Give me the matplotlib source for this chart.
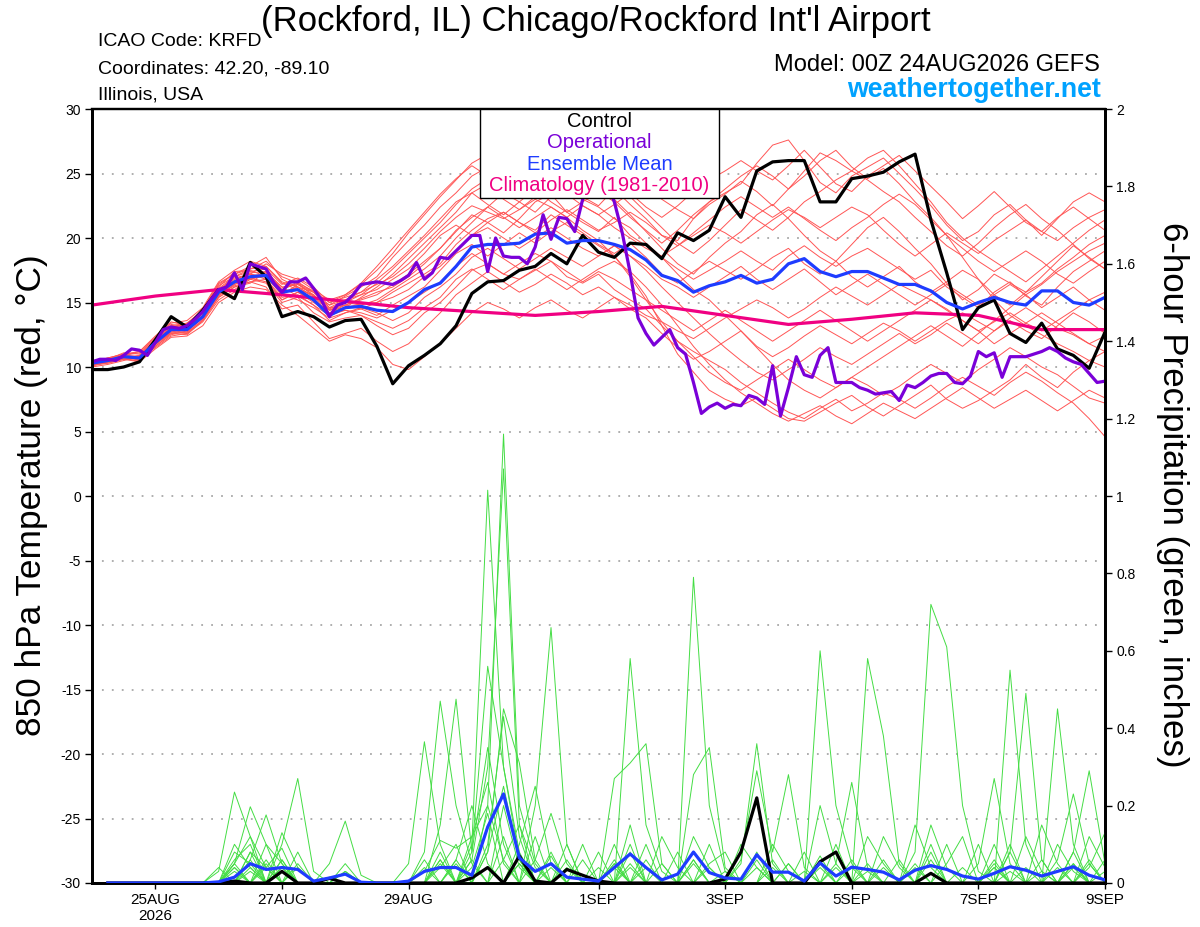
import numpy as np
import matplotlib
matplotlib.use('Agg')
import matplotlib.pyplot as plt
from matplotlib.patches import Rectangle

plt.rcParams['font.family'] = ['Liberation Sans', 'DejaVu Sans']

# forecast hours (00Z 24AUG2026 run)
hours6 = np.arange(0, 385, 6)
hours3 = np.arange(0, 385, 3)
clim_hours = np.arange(0, 385, 24)
precip_hours = hours6[1:]

date_ticks = [24, 72, 120, 192, 240, 288, 336, 384]
date_labels = ['25AUG\n2026', '27AUG', '29AUG', '1SEP', '3SEP', '5SEP', '7SEP', '9SEP']

# 850 hPa temperature, control run (6-hourly)
control_temp = [9.8, 9.8, 10.0, 10.4, 12.1, 13.9, 13.1, 14.4, 16.0, 15.3, 18.1, 17.0,
                13.9, 14.3, 13.9, 13.1, 13.6, 13.7, 11.6, 8.7, 10.1,
                10.9, 11.8, 13.2, 15.7, 16.6, 16.7, 17.5, 17.8, 18.8, 18.0, 20.2, 18.9, 18.5, 19.6,
                19.5, 18.4, 20.4, 19.8, 20.6, 23.2,
                21.6, 25.2, 25.9, 26.0, 26.0, 22.8, 22.8, 24.6, 24.8, 25.1, 25.9, 26.5, 21.4, 17.3,
                12.9, 14.6, 15.2, 12.6, 11.9, 13.4, 11.4, 10.9, 9.9, 12.7]

# ensemble mean (6-hourly)
mean_temp = [10.3, 10.5, 10.8, 10.7, 11.9, 12.9, 12.9, 13.9, 15.8, 16.6, 17.0, 17.1,
             15.8, 16.0, 15.2, 14.0, 14.6, 14.7, 14.4, 14.3, 15.0,
             16.0, 16.5, 17.8, 19.3, 19.5, 19.5, 19.6, 20.3, 20.4, 19.6, 19.8, 19.8, 19.5, 19.1,
             18.3, 17.1, 16.7, 15.8, 16.3, 16.6,
             17.1, 16.5, 16.8, 18.0, 18.4, 17.4, 17.0, 17.4, 17.4, 16.9, 16.4, 16.4, 15.9, 15.0,
             14.5, 15.0, 15.4, 15.0, 14.8, 15.9, 15.9, 15.0, 14.8, 15.4]

# operational run (3-hourly)
oper_temp = [10.4, 10.6, 10.6, 10.5, 10.9, 11.4, 11.3, 10.9, 11.9, 12.9, 13.1, 13.0,
             13.2, 13.7, 14.3, 15.2, 16.0, 16.2, 17.3, 16.0, 18.0, 17.8, 17.6, 16.5,
             15.8, 16.6, 16.6, 16.9, 16.1, 15.2, 13.9, 14.8, 15.0, 15.6, 16.4, 16.5,
             16.6, 16.5, 16.4, 16.7, 17.1, 18.1, 16.8, 17.3, 18.5, 18.4, 19.0, 19.6,
             20.2, 20.2, 17.4, 20.0, 18.6, 18.5, 18.5, 18.0, 19.3, 21.8, 19.9, 21.6,
             21.5, 20.5, 23.0, 24.5, 25.0, 24.3, 22.8, 20.4, 17.3, 13.8, 12.6, 11.7,
             12.3, 12.9, 11.5, 11.0, 8.8, 6.4, 6.9, 7.2, 6.8, 7.1, 7.0, 7.8,
             7.6, 7.1, 10.1, 6.2, 8.4, 10.8, 9.4, 9.2, 10.9, 11.5, 8.8, 8.8,
             8.8, 8.4, 8.2, 7.9, 8.0, 8.1, 7.4, 8.6, 8.4, 8.8, 9.3, 9.5,
             9.5, 8.8, 8.7, 9.3, 11.2, 10.8, 11.1, 9.2, 10.8, 10.8, 10.8, 11.0,
             11.2, 11.5, 11.2, 10.7, 10.4, 10.2, 9.5, 8.8, 8.9]

# climatology 1981-2010 (daily)
clim_temp = [14.8, 15.5, 16.0, 15.6, 15.1, 14.6, 14.3, 14.0, 14.3, 14.7, 14.0, 13.3,
             13.7, 14.2, 14.0, 12.9, 12.9]

# ensemble members (6-hourly)
ens_temp = [
    [10.1, 10.4, 10.9, 11.2, 12.4, 13.5, 13.2, 14.5, 16.5, 17.2, 17.8, 18.5,
     16.8, 16.2, 15.5, 14.8, 15.5, 16.2, 17.0, 18.5, 19.8,
     21.0, 22.4, 23.5, 24.8, 25.5, 24.6, 23.8, 24.5, 25.2, 24.0, 23.2, 22.5, 23.8, 22.6, 21.5, 20.2, 19.8, 21.5, 22.8, 23.5,
     24.2, 25.8, 27.2, 27.6, 26.0, 24.3, 23.5, 24.8, 25.5, 26.2, 25.0, 23.8, 22.5, 21.0, 19.8, 20.5, 21.8, 22.6, 21.4, 20.2, 21.5, 22.8, 23.5, 22.8],
    [10.4, 10.7, 11.0, 10.6, 11.5, 12.4, 12.6, 13.5, 15.2, 16.0, 16.8, 16.5,
     15.0, 15.4, 14.2, 13.5, 13.8, 14.0, 13.2, 12.5, 13.0,
     14.2, 15.0, 16.2, 17.5, 18.0, 17.2, 16.8, 17.5, 18.2, 17.0, 16.5, 17.2, 16.0, 15.2, 14.5, 13.2, 12.0, 11.2, 10.5, 9.8,
     8.8, 8.0, 7.2, 6.5, 6.0, 6.8, 7.5, 6.6, 7.2, 8.0, 7.5, 6.8, 7.6, 8.5, 9.2, 8.5, 7.8, 8.8, 9.6, 8.9, 8.0, 7.2, 6.0, 4.6],
    [10.2, 10.3, 10.6, 10.9, 12.0, 13.0, 13.4, 14.2, 16.2, 17.4, 17.5, 17.0,
     15.6, 16.4, 15.8, 14.6, 14.8, 15.3, 15.8, 16.2, 17.0,
     18.0, 19.2, 20.5, 21.8, 21.2, 20.4, 21.5, 22.8, 23.4, 22.0, 21.2, 20.5, 21.6, 20.2, 19.4, 18.5, 17.6, 16.8, 17.5, 18.2,
     19.0, 18.2, 17.5, 18.6, 19.4, 18.5, 17.8, 18.6, 19.2, 18.4, 17.6, 16.8, 17.5, 16.2, 15.4, 14.6, 15.8, 16.6, 15.5, 14.8, 16.2, 17.4, 18.2, 19.0],
    [10.5, 10.6, 10.9, 10.5, 11.8, 12.6, 12.5, 13.6, 15.4, 16.2, 16.5, 17.4,
     16.2, 15.5, 14.8, 13.6, 14.2, 14.5, 15.0, 15.8, 16.5,
     17.2, 18.0, 19.5, 20.6, 21.5, 22.0, 21.2, 20.6, 21.8, 21.0, 20.2, 19.4, 18.6, 17.2, 15.5, 13.2, 11.0, 9.6, 8.2, 7.5,
     7.0, 7.6, 6.8, 6.0, 5.8, 6.5, 7.2, 7.8, 6.9, 6.2, 7.0, 7.8, 8.6, 7.5, 6.8, 7.4, 8.2, 9.0, 10.2, 9.2, 8.4, 9.6, 10.5, 11.2],
    [10.0, 10.2, 10.5, 10.8, 12.2, 13.2, 13.0, 14.0, 16.0, 16.8, 17.2, 18.0,
     17.2, 16.8, 16.0, 15.2, 15.6, 16.4, 17.5, 18.8, 20.4,
     21.8, 23.2, 24.5, 25.8, 26.5, 25.2, 24.8, 26.0, 25.4, 24.6, 23.5, 24.2, 23.0, 21.8, 20.5, 19.2, 18.0, 17.2, 18.5, 19.6,
     20.5, 21.8, 22.6, 21.5, 20.2, 19.0, 18.2, 19.5, 20.8, 21.6, 20.5, 19.2, 18.0, 16.5, 15.2, 16.0, 17.2, 16.5, 15.8, 17.0, 18.2, 19.4, 18.5, 17.6],
    [10.3, 10.5, 10.7, 10.4, 11.6, 12.5, 12.8, 13.8, 15.6, 16.3, 16.6, 16.2,
     14.5, 14.8, 13.5, 12.2, 12.6, 13.0, 12.0, 11.2, 11.8,
     13.0, 14.2, 15.6, 16.5, 17.4, 16.6, 15.8, 16.4, 17.2, 16.5, 15.6, 16.2, 15.4, 14.5, 13.8, 12.6, 11.5, 10.6, 11.2, 12.0,
     12.8, 11.6, 10.8, 11.5, 12.4, 13.2, 12.5, 11.8, 12.6, 13.4, 12.8, 12.0, 12.8, 13.6, 14.2, 13.5, 12.8, 13.8, 14.6, 13.8, 13.0, 12.5, 11.8, 12.4],
    [10.2, 10.6, 11.1, 11.0, 12.1, 13.3, 13.1, 14.3, 16.3, 17.0, 17.6, 17.8,
     16.5, 16.0, 15.6, 14.4, 14.6, 15.4, 16.2, 17.2, 18.4,
     19.6, 20.8, 22.0, 23.5, 24.2, 23.0, 22.2, 23.2, 24.0, 23.4, 22.5, 21.8, 22.6, 23.5, 22.4, 21.6, 22.5, 23.6, 24.5, 25.2,
     26.0, 25.2, 24.5, 25.6, 26.8, 25.5, 24.2, 23.6, 24.8, 25.6, 26.4, 25.2, 24.0, 22.8, 21.5, 22.5, 23.6, 22.4, 21.2, 20.5, 21.6, 22.4, 21.5, 20.6],
    [10.4, 10.5, 10.8, 10.8, 11.9, 12.8, 12.7, 13.9, 15.9, 16.6, 17.2, 16.8,
     15.2, 15.8, 15.0, 14.2, 14.8, 14.5, 14.0, 14.8, 15.5,
     16.2, 17.5, 18.8, 19.5, 18.6, 19.5, 20.4, 19.6, 20.5, 21.2, 20.4, 19.5, 18.8, 19.6, 18.5, 17.2, 16.5, 17.4, 18.2, 17.5,
     16.8, 17.6, 18.5, 19.2, 18.0, 17.2, 18.2, 17.0, 16.2, 17.0, 17.8, 16.6, 15.8, 16.6, 17.5, 16.8, 15.6, 14.8, 15.8, 16.5, 17.6, 18.5, 19.5, 20.2],
    [10.1, 10.4, 10.7, 10.6, 11.7, 12.7, 13.0, 13.8, 15.7, 16.5, 16.8, 17.2,
     16.0, 16.5, 15.5, 14.5, 15.0, 14.8, 15.2, 16.0, 16.8,
     17.6, 18.6, 20.0, 21.2, 22.4, 23.5, 22.8, 22.0, 23.2, 24.0, 23.0, 22.4, 21.5, 20.8, 19.6, 18.5, 17.2, 16.0, 15.2, 14.0,
     12.8, 11.5, 10.2, 9.0, 8.2, 7.6, 8.4, 9.2, 8.6, 7.8, 8.5, 9.4, 10.2, 9.5, 8.8, 9.8, 10.6, 11.5, 10.8, 10.0, 9.4, 8.5, 7.6, 7.2],
    [10.3, 10.6, 10.9, 10.8, 12.0, 13.1, 13.3, 14.1, 16.1, 17.0, 17.4, 17.6,
     16.4, 16.9, 16.2, 15.0, 15.4, 15.8, 16.4, 17.0, 18.0,
     19.2, 20.5, 21.6, 22.5, 22.0, 21.5, 22.2, 23.0, 22.4, 21.6, 22.5, 21.8, 20.8, 20.0, 19.2, 18.6, 19.4, 20.2, 21.0, 20.4,
     19.6, 20.5, 21.4, 22.2, 21.6, 20.8, 21.6, 22.4, 21.8, 20.6, 19.5, 18.6, 19.5, 20.4, 19.6, 18.8, 19.8, 20.6, 21.4, 20.5, 19.8, 20.8, 21.6, 22.2],
    [10.2, 10.4, 10.6, 10.4, 11.4, 12.3, 12.4, 13.2, 15.0, 15.8, 16.2, 16.0,
     14.8, 14.0, 13.0, 12.0, 12.5, 12.2, 11.5, 10.2, 9.8,
     10.8, 11.8, 13.0, 14.2, 15.0, 14.5, 13.8, 14.6, 15.2, 14.4, 13.8, 14.6, 15.4, 14.8, 14.0, 13.5, 12.8, 12.2, 13.0, 13.8,
     14.5, 15.2, 14.6, 13.8, 14.5, 15.4, 16.2, 15.5, 14.8, 15.6, 16.4, 15.8, 15.2, 14.5, 13.6, 12.8, 13.5, 14.2, 13.4, 12.8, 13.6, 14.4, 15.2, 15.8],
    [10.4, 10.7, 11.0, 11.2, 12.3, 13.4, 13.6, 14.6, 16.6, 17.5, 18.2, 17.8,
     16.6, 16.2, 15.8, 14.8, 15.2, 15.8, 16.8, 17.8, 19.0,
     20.2, 21.5, 22.8, 23.5, 22.6, 21.8, 22.8, 23.8, 24.6, 25.2, 24.2, 23.5, 24.6, 25.5, 24.2, 23.0, 22.2, 21.5, 22.6, 23.4,
     24.4, 23.6, 22.5, 23.8, 24.8, 26.0, 26.8, 25.5, 24.6, 25.4, 24.2, 22.8, 21.6, 20.2, 18.5, 16.8, 15.2, 14.0, 13.2, 12.5, 11.8, 11.2, 10.5, 10.0],
    [10.3, 10.5, 10.8, 10.6, 11.8, 12.7, 12.6, 13.7, 15.5, 16.4, 16.9, 17.0,
     15.6, 15.2, 14.6, 13.8, 14.2, 14.6, 14.2, 13.6, 14.2,
     15.4, 16.2, 17.2, 18.5, 19.2, 18.4, 17.6, 18.4, 19.2, 18.5, 17.8, 18.6, 19.4, 18.6, 17.5, 16.2, 15.0, 13.8, 12.6, 11.5,
     10.5, 9.6, 9.0, 9.8, 10.6, 11.5, 10.8, 10.2, 11.0, 11.8, 12.6, 11.8, 12.5, 13.4, 12.6, 11.8, 12.8, 13.6, 12.8, 12.2, 13.2, 14.2, 13.5, 12.6],
    [10.2, 10.5, 10.9, 11.1, 12.2, 13.2, 13.4, 14.4, 16.4, 17.2, 17.6, 18.2,
     17.0, 16.5, 15.9, 15.0, 15.6, 16.5, 17.8, 19.2, 20.6,
     22.0, 23.4, 24.6, 25.6, 24.8, 24.0, 24.8, 25.6, 24.8, 23.8, 24.5, 25.2, 24.4, 23.2, 22.0, 20.8, 19.6, 18.8, 19.8, 21.0,
     22.2, 21.4, 20.6, 21.6, 22.8, 23.6, 24.5, 25.2, 24.5, 23.6, 22.8, 21.6, 20.5, 19.4, 18.6, 19.6, 20.8, 21.8, 22.6, 21.5, 20.6, 19.5, 18.4, 17.6],
    [10.1, 10.3, 10.6, 10.5, 11.6, 12.6, 12.7, 13.6, 15.4, 16.2, 16.6, 16.8,
     15.4, 15.6, 14.8, 14.0, 14.4, 14.0, 13.5, 13.0, 13.6,
     14.6, 15.4, 16.8, 17.6, 16.8, 16.0, 16.8, 17.6, 16.8, 16.0, 16.8, 17.6, 18.2, 17.4, 16.2, 14.8, 13.2, 11.6, 10.2, 9.0,
     8.0, 7.2, 6.4, 5.8, 6.4, 7.0, 6.2, 5.6, 6.4, 7.2, 6.6, 6.0, 6.8, 7.6, 8.4, 7.6, 6.8, 7.5, 8.2, 7.4, 6.6, 7.4, 8.2, 7.6],
    [10.4, 10.6, 10.8, 10.7, 12.0, 13.0, 12.8, 14.0, 15.9, 16.7, 17.3, 17.4,
     16.0, 16.6, 15.8, 14.6, 15.2, 15.6, 16.0, 16.8, 17.6,
     18.8, 20.2, 21.0, 20.2, 21.2, 22.0, 21.2, 20.4, 21.4, 22.2, 21.4, 20.6, 21.2, 22.0, 21.2, 20.2, 19.4, 20.4, 21.4, 22.4,
     23.2, 22.4, 21.6, 22.4, 21.5, 20.6, 19.8, 20.8, 21.6, 22.6, 23.4, 22.6, 21.4, 20.2, 19.2, 18.2, 17.4, 18.2, 19.0, 18.2, 17.2, 16.5, 17.4, 18.2],
    [10.3, 10.4, 10.7, 10.9, 11.9, 12.9, 12.9, 14.0, 15.8, 16.6, 17.0, 17.3,
     15.8, 16.0, 15.3, 14.2, 14.6, 14.9, 15.0, 15.4, 16.0,
     17.0, 17.8, 19.0, 20.2, 20.8, 20.0, 19.2, 20.0, 20.8, 20.0, 19.2, 18.6, 19.4, 18.6, 17.8, 16.8, 16.2, 15.4, 16.2, 17.0,
     17.8, 16.8, 16.0, 16.8, 17.6, 16.6, 15.6, 16.4, 17.2, 16.4, 15.6, 14.8, 15.6, 16.4, 15.6, 14.8, 15.6, 16.4, 15.6, 14.6, 15.4, 16.2, 15.2, 14.4],
    [10.2, 10.5, 10.7, 10.6, 11.8, 12.8, 12.9, 13.8, 15.6, 16.4, 16.9, 16.6,
     15.2, 15.8, 15.2, 14.2, 14.4, 14.2, 13.8, 14.4, 15.0,
     15.8, 16.6, 17.8, 18.8, 18.0, 17.2, 18.0, 18.8, 18.2, 17.4, 16.6, 17.4, 16.8, 16.0, 15.2, 14.4, 13.6, 12.8, 13.6, 14.4,
     13.6, 12.8, 12.0, 12.8, 13.6, 14.4, 13.6, 12.8, 12.0, 12.8, 13.6, 14.4, 15.2, 14.4, 13.6, 12.8, 11.8, 12.6, 13.4, 14.2, 13.4, 12.6, 11.8, 11.2],
    [10.3, 10.6, 10.9, 10.8, 12.1, 13.1, 13.0, 14.2, 16.0, 16.9, 17.2, 17.0,
     15.8, 16.2, 15.4, 14.4, 15.0, 15.6, 16.5, 17.6, 18.8,
     20.0, 21.2, 22.6, 23.8, 24.6, 25.4, 24.6, 23.8, 22.8, 22.0, 22.8, 23.6, 22.8, 21.6, 20.6, 19.6, 20.6, 21.8, 22.8, 23.8,
     24.8, 25.6, 24.8, 23.8, 25.2, 26.6, 26.0, 25.2, 26.2, 26.8, 25.6, 24.2, 22.8, 21.2, 20.0, 19.0, 18.2, 17.4, 16.6, 17.6, 18.6, 19.6, 20.6, 21.4],
    [10.4, 10.5, 10.8, 10.7, 11.9, 12.8, 12.9, 13.9, 15.7, 16.5, 16.8, 17.2,
     16.2, 16.4, 15.6, 14.4, 14.8, 15.2, 15.6, 16.4, 17.2,
     18.2, 19.2, 20.6, 21.6, 22.4, 21.6, 20.8, 21.6, 22.4, 21.6, 20.6, 19.8, 18.6, 17.0, 15.2, 13.5, 12.0, 10.8, 9.6, 8.8,
     8.2, 9.0, 9.8, 10.6, 9.8, 9.0, 8.4, 9.2, 10.0, 10.8, 11.6, 12.4, 13.2, 12.4, 11.6, 12.6, 13.6, 14.6, 15.6, 16.4, 17.4, 18.2, 19.0, 19.6],
]

# 6-hour precipitation (inches), hours 6..384
control_precip = [0, 0, 0, 0, 0, 0, 0, 0,
                  0.005, 0, 0, 0.03, 0, 0, 0.012, 0,
                  0, 0, 0, 0, 0, 0, 0, 0.013,
                  0.04, 0, 0.07, 0.005, 0, 0.035, 0.02, 0.005,
                  0, 0, 0, 0, 0, 0, 0, 0.01,
                  0.08, 0.22, 0, 0, 0, 0.055, 0.08, 0,
                  0, 0, 0, 0, 0.025, 0, 0, 0,
                  0, 0, 0, 0, 0, 0, 0, 0]

mean_precip = [0, 0, 0, 0, 0, 0, 0, 0.003,
               0.015, 0.05, 0.035, 0.04, 0.035, 0.005, 0.013, 0.023,
               0.002, 0, 0, 0.005, 0.03, 0.04, 0.04, 0.02,
               0.145, 0.23, 0.065, 0.03, 0.05, 0.015, 0.01, 0.005,
               0.04, 0.075, 0.04, 0.008, 0.023, 0.08, 0.027, 0.013,
               0.01, 0.073, 0.028, 0.028, 0.005, 0.052, 0.018, 0.041,
               0.035, 0.028, 0.008, 0.033, 0.045, 0.035, 0.018, 0.01,
               0.025, 0.042, 0.033, 0.018, 0.03, 0.042, 0.02, 0.008]

# members: 6h step number -> amount (all other steps dry)
ens_precip = [
    {8: .03, 9: .235, 10: .12, 11: .04, 22: .05, 24: .1, 25: 1.015, 26: .3, 27: .08, 33: .06, 38: .79, 39: .2, 40: .03, 46: .05, 53: .15, 54: .04, 60: .03},
    {12: .1, 13: .27, 14: .03, 21: .04, 25: .2, 26: 1.16, 27: .2, 28: .05, 34: .08, 42: .06, 46: .6, 47: .2, 48: .05, 57: .04, 61: .45, 62: .1},
    {9: .05, 10: .197, 11: .1, 16: .03, 24: .06, 25: .3, 26: 1.07, 27: .15, 30: .04, 34: .58, 35: .15, 36: .03, 44: .05, 50: .06, 58: .55, 59: .1},
    {10: .06, 11: .176, 12: .05, 21: .08, 22: .47, 23: .2, 24: .05, 28: .2, 29: .66, 30: .1, 38: .06, 43: .04, 49: .58, 50: .38, 51: .05, 63: .06},
    {9: .04, 12: .06, 22: .15, 23: .475, 24: .08, 25: .56, 26: .3, 27: .06, 33: .05, 39: .04, 52: .08, 53: .72, 54: .61, 55: .2, 56: .03, 62: .05},
    {10: .08, 13: .04, 20: .05, 21: .365, 22: .1, 25: .08, 26: .45, 27: .31, 28: .06, 34: .1, 41: .05, 42: .36, 43: .05, 58: .08, 59: .49, 60: .06},
    {9: .06, 10: .1, 15: .05, 16: .16, 17: .02, 23: .06, 27: .1, 28: .25, 29: .05, 33: .27, 34: .31, 35: .36, 36: .05, 47: .04, 62: .08, 63: .29, 64: .05},
    {9: .08, 10: .05, 12: .13, 13: .04, 24: .12, 25: .26, 26: .05, 31: .06, 38: .28, 39: .35, 40: .04, 45: .03, 53: .06, 56: .05, 57: .27, 58: .05},
    {10: .08, 11: .04, 12: .09, 22: .06, 25: .1, 26: .43, 27: .12, 29: .07, 41: .06, 42: .29, 43: .08, 44: .28, 45: .04, 55: .04, 61: .06, 62: .23, 63: .05},
    {9: .1, 10: .04, 21: .03, 22: .11, 23: .09, 24: .12, 25: .2, 26: .06, 32: .04, 35: .06, 47: .05, 48: .26, 49: .04, 52: .15, 53: .04, 63: .04, 64: .13},
    {8: .04, 11: .1, 12: .05, 22: .06, 26: .2, 27: .04, 30: .1, 33: .04, 36: .12, 37: .04, 46: .2, 47: .05, 53: .1, 57: .05, 60: .15, 61: .05},
    {9: .05, 10: .12, 16: .05, 23: .05, 28: .06, 29: .18, 30: .05, 34: .15, 41: .1, 42: .04, 49: .12, 50: .05, 57: .1, 63: .12, 64: .04},
    {11: .04, 13: .08, 21: .06, 24: .08, 25: .35, 26: .1, 33: .1, 38: .05, 43: .1, 44: .03, 50: .12, 51: .04, 58: .08, 62: .04},
    {9: .05, 12: .03, 23: .06, 24: .2, 25: .05, 31: .1, 34: .04, 38: .12, 39: .04, 45: .08, 54: .05, 55: .12, 61: .1, 62: .03},
    {10: .03, 12: .06, 25: .08, 26: .25, 27: .06, 32: .08, 39: .05, 40: .08, 47: .1, 52: .04, 56: .1, 59: .04, 62: .08},
    {11: .05, 16: .03, 26: .06, 27: .15, 28: .04, 35: .1, 42: .04, 44: .05, 49: .03, 51: .06, 59: .12, 60: .03, 64: .06},
    {10: .06, 12: .04, 24: .04, 25: .18, 28: .12, 34: .05, 37: .08, 43: .06, 48: .04, 53: .08, 58: .03, 60: .06},
    {9: .04, 13: .05, 22: .04, 23: .1, 27: .05, 30: .06, 35: .04, 39: .1, 46: .04, 48: .06, 54: .1, 57: .04, 63: .05},
    {9: .03, 11: .06, 22: .08, 26: .12, 29: .04, 33: .05, 38: .06, 42: .08, 50: .04, 52: .05, 58: .1, 61: .04},
    {10: .04, 12: .04, 24: .06, 27: .05, 29: .08, 36: .05, 40: .03, 46: .07, 49: .05, 57: .06, 62: .05, 64: .03},
]

legend_items = [('Control', 'black'),
                ('Operational', '#7A00D8'),
                ('Ensemble Mean', '#1E3CFF'),
                ('Climatology (1981-2010)', '#F00082')]

W, H = 1200, 927
fig = plt.figure(figsize=(W / 100, H / 100), dpi=100)
ax = fig.add_axes([92 / W, 1 - 883 / H, 1013 / W, 774 / H])
ax2 = ax.twinx()

# temperature
for m in ens_temp:
    ax.plot(hours6, m, color='#FF5555', lw=0.7, zorder=2)
ax.plot(clim_hours, clim_temp, color='#F00082', lw=2.3, zorder=3)
ax.plot(hours6, control_temp, color='black', lw=2.3, zorder=4)
ax.plot(hours6, mean_temp, color='#1E3CFF', lw=2.3, zorder=5)
ax.plot(hours3, oper_temp, color='#7A00D8', lw=2.3, zorder=6)

# precipitation
for d in ens_precip:
    p = np.zeros(len(precip_hours))
    for k, v in d.items():
        p[k - 1] = v
    ax2.plot(precip_hours, p, color='#44DD44', lw=0.7, zorder=2)
ax2.plot(precip_hours, control_precip, color='black', lw=2.3, zorder=4)
ax2.plot(precip_hours, mean_precip, color='#1E3CFF', lw=2.3, zorder=5)

ax.set_xlim(0, 384)
ax.set_ylim(-30, 30)
ax2.set_ylim(0, 2)

ax.set_yticks(np.arange(-30, 31, 5))
ax.set_yticklabels([str(v) for v in range(-30, 31, 5)])
pt = np.round(np.arange(0, 2.01, 0.2), 1)
ax2.set_yticks(pt)
ax2.set_yticklabels([f'{v:g}' for v in pt])
ax.set_xticks(date_ticks)
ax.set_xticklabels(date_labels)

ax.yaxis.grid(True, linestyle=(0, (1, 4.5)), color='#A8A8A8', lw=1.3)
ax.tick_params(axis='y', direction='out', length=5, width=1, labelsize=10, pad=3)
ax.tick_params(axis='x', direction='out', length=4, width=1, labelsize=11, pad=3)
ax2.tick_params(axis='y', direction='out', length=5, width=1, labelsize=10, pad=3)
for a in (ax, ax2):
    for s in a.spines.values():
        s.set_linewidth(2)
    a.spines['top'].set_linewidth(1.6)

# legend box
x0 = (480 - 92) / 1013
x1 = (719 - 92) / 1013
y0 = (883 - 198) / 774
ax2.add_patch(Rectangle((x0, y0), x1 - x0, 1 - y0, transform=ax2.transAxes,
                        facecolor='white', edgecolor='black', lw=1, zorder=10,
                        clip_on=False))
for k, (txt, col) in enumerate(legend_items):
    yb = (883 - (127 + 21.3 * k)) / 774
    ax2.text((x0 + x1) / 2, yb, txt, color=col, fontsize=14.5, ha='center',
             va='baseline', transform=ax2.transAxes, zorder=11)

# header texts
fig.text(596 / W, 1 - 31 / H, "(Rockford, IL) Chicago/Rockford Int'l Airport",
         ha='center', va='baseline', fontsize=25)
fig.text(98 / W, 1 - 46 / H, 'ICAO Code: KRFD', va='baseline', fontsize=14)
fig.text(98 / W, 1 - 73 / H, 'Coordinates: 42.20, -89.10', va='baseline', fontsize=14)
fig.text(98 / W, 1 - 100 / H, 'Illinois, USA', va='baseline', fontsize=14)
fig.text(1100 / W, 1 - 71 / H, 'Model: 00Z 24AUG2026 GEFS', ha='right',
         va='baseline', fontsize=17)
fig.text(1101 / W, 1 - 97 / H, 'weathertogether.net', ha='right', va='baseline',
         fontsize=19.3, fontweight='bold', color='#00A2FF')

fig.text(32 / W, 1 - 495 / H, '850 hPa Temperature (red, °C)', rotation=90,
         ha='center', va='center', fontsize=25.4)
fig.text(1172 / W, 1 - 495 / H, '6-hour Precipitation (green, inches)',
         rotation=270, ha='center', va='center', fontsize=25.1)

fig.savefig('out.png', dpi=100)
